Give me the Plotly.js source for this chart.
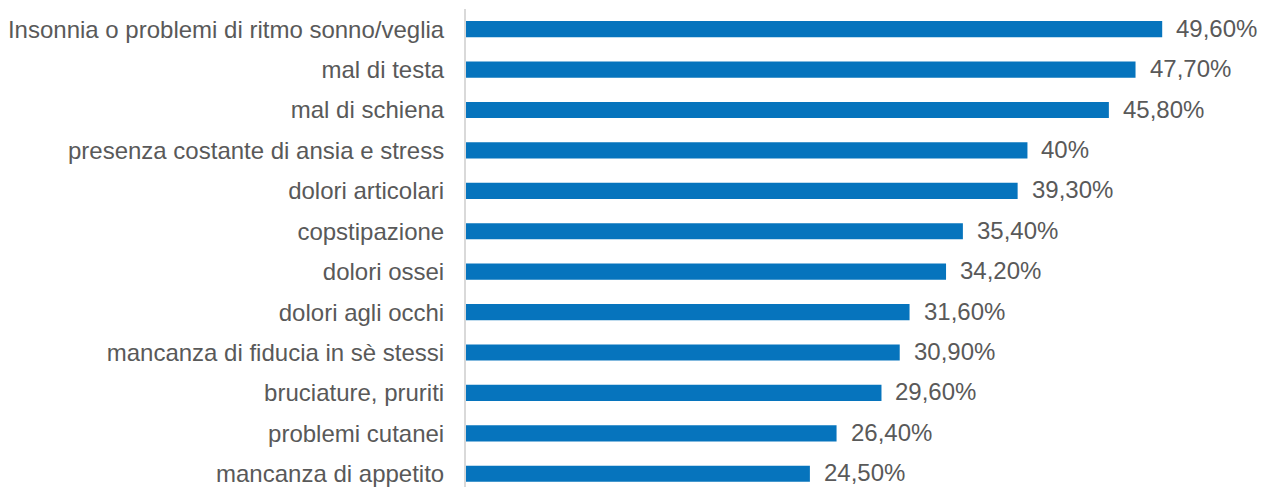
<!DOCTYPE html>
<html><head><meta charset="utf-8">
<script src="https://cdn.plot.ly/plotly-3.0.1.min.js"></script>
<style>html,body{margin:0;padding:0;background:#fff}#chart{width:1262px;height:487px}</style>
</head><body><div id="chart"></div>
<script>
const categories = [
  "mancanza di appetito",
  "problemi cutanei",
  "bruciature, pruriti",
  "mancanza di fiducia in sè stessi",
  "dolori agli occhi",
  "dolori ossei",
  "copstipazione",
  "dolori articolari",
  "presenza costante di ansia e stress",
  "mal di schiena",
  "mal di testa",
  "Insonnia o problemi di ritmo sonno/veglia"
];
const values = [24.5, 26.4, 29.6, 30.9, 31.6, 34.2, 35.4, 39.3, 40, 45.8, 47.7, 49.6];
const valueLabels = ["24,50%","26,40%","29,60%","30,90%","31,60%","34,20%","35,40%","39,30%","40%","45,80%","47,70%","49,60%"];

const fontFam = "Liberation Sans, Arial, sans-serif";
const annotations = categories.map((c, i) => ({
  x: values[i], y: c, xref: 'x', yref: 'y',
  text: valueLabels[i], showarrow: false,
  xanchor: 'left', yanchor: 'middle', xshift: 12, yshift: 1,
  font: {family: fontFam, size: 24, color: '#595959'}
}));

Plotly.newPlot('chart', [{
  type: 'bar', orientation: 'h',
  x: values, y: categories,
  marker: {color: '#0674BD', line: {width: 0}},
  hoverinfo: 'none'
}], {
  width: 1262, height: 487,
  margin: {l: 466, r: 24, t: 9, b: 0},
  paper_bgcolor: '#fff', plot_bgcolor: '#fff',
  bargap: 0.6,
  showlegend: false,
  xaxis: {range: [0, 55], visible: false, fixedrange: true},
  yaxis: {
    type: 'category',
    range: [-0.327, 11.5],
    showline: true, linecolor: '#d9d9d9', linewidth: 2,
    showgrid: false, zeroline: false,
    ticks: '', ticklabelstandoff: 15,
    tickfont: {family: fontFam, size: 24, color: '#595959'},
    fixedrange: true
  },
  annotations: annotations
}, {staticPlot: true});
</script>
</body></html>
